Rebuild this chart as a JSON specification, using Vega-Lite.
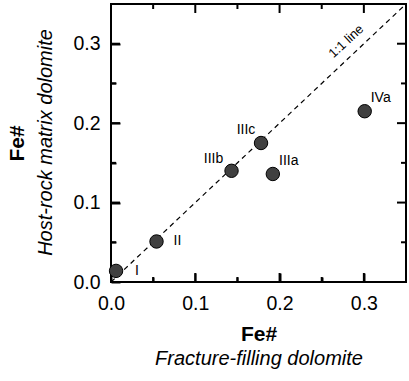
{
  "$schema": "https://vega.github.io/schema/vega-lite/v6.json",
  "autosize": "none",
  "padding": {"left": 111, "top": 4, "right": 3, "bottom": 99},
  "width": 295,
  "height": 278,
  "datasets": {
    "pts": [
      {"sample": "I", "x": 0.006, "y": 0.014},
      {"sample": "II", "x": 0.054, "y": 0.051},
      {"sample": "IIIb", "x": 0.143, "y": 0.140},
      {"sample": "IIIc", "x": 0.178, "y": 0.175},
      {"sample": "IIIa", "x": 0.192, "y": 0.136},
      {"sample": "IVa", "x": 0.301, "y": 0.215}
    ],
    "oneline": [{"x": 0, "y": 0}, {"x": 0.35, "y": 0.35}],
    "ann": [{"x": 0.279, "y": 0.303, "text": "1:1 line"}],
    "major": [{"v": 0.1}, {"v": 0.2}, {"v": 0.3}],
    "minor": [{"v": 0.05}, {"v": 0.15}, {"v": 0.25}]
  },
  "resolve": {"axis": {"x": "independent", "y": "independent"}},
  "layer": [
    {
      "data": {"name": "oneline"},
      "mark": {"type": "line", "stroke": "black", "strokeWidth": 1.2, "strokeDash": [5, 4]},
      "encoding": {
        "x": {"field": "x", "type": "quantitative", "scale": {"domain": [0, 0.35], "nice": false, "zero": false},
          "axis": {"orient": "bottom", "values": [0, 0.1, 0.2, 0.3], "format": ".1f", "offset": -9, "tickSize": 9, "labelPadding": 12,
            "title": "Fe#", "titleFontSize": 21, "titleFontWeight": "bold", "titleX": 147.5, "titleY": 61, "titleAlign": "center", "titleBaseline": "middle"}},
        "y": {"field": "y", "type": "quantitative", "scale": {"domain": [0, 0.35], "nice": false, "zero": false},
          "axis": {"orient": "left", "values": [0, 0.1, 0.2, 0.3], "format": ".1f", "offset": -9, "tickSize": 9, "labelPadding": 11,
            "title": "Fe#", "titleFontSize": 21, "titleFontWeight": "bold", "titleX": -103, "titleY": 139, "titleAlign": "center", "titleBaseline": "middle", "titleAngle": -90}}
      }
    },
    {
      "data": {"name": "major"},
      "mark": {"type": "rule", "stroke": "black", "strokeWidth": 2},
      "encoding": {
        "x": {"field": "v", "type": "quantitative", "axis": null},
        "y": {"datum": 0, "type": "quantitative", "axis": null},
        "y2": {"datum": 0.0113}
      }
    },
    {
      "data": {"name": "minor"},
      "mark": {"type": "rule", "stroke": "black", "strokeWidth": 2},
      "encoding": {
        "x": {"field": "v", "type": "quantitative", "axis": null},
        "y": {"datum": 0, "type": "quantitative", "axis": null},
        "y2": {"datum": 0.0063}
      }
    },
    {
      "data": {"name": "major"},
      "mark": {"type": "rule", "stroke": "black", "strokeWidth": 2},
      "encoding": {
        "x": {"field": "v", "type": "quantitative", "axis": null},
        "y": {"datum": 0.35, "type": "quantitative", "axis": null},
        "y2": {"datum": 0.3387}
      }
    },
    {
      "data": {"name": "minor"},
      "mark": {"type": "rule", "stroke": "black", "strokeWidth": 2},
      "encoding": {
        "x": {"field": "v", "type": "quantitative", "axis": null},
        "y": {"datum": 0.35, "type": "quantitative", "axis": null},
        "y2": {"datum": 0.3437}
      }
    },
    {
      "data": {"name": "major"},
      "mark": {"type": "rule", "stroke": "black", "strokeWidth": 2},
      "encoding": {
        "y": {"field": "v", "type": "quantitative", "axis": null},
        "x": {"datum": 0, "type": "quantitative", "axis": null},
        "x2": {"datum": 0.0107}
      }
    },
    {
      "data": {"name": "minor"},
      "mark": {"type": "rule", "stroke": "black", "strokeWidth": 2},
      "encoding": {
        "y": {"field": "v", "type": "quantitative", "axis": null},
        "x": {"datum": 0, "type": "quantitative", "axis": null},
        "x2": {"datum": 0.0059}
      }
    },
    {
      "data": {"name": "major"},
      "mark": {"type": "rule", "stroke": "black", "strokeWidth": 2},
      "encoding": {
        "y": {"field": "v", "type": "quantitative", "axis": null},
        "x": {"datum": 0.35, "type": "quantitative", "axis": null},
        "x2": {"datum": 0.3393}
      }
    },
    {
      "data": {"name": "minor"},
      "mark": {"type": "rule", "stroke": "black", "strokeWidth": 2},
      "encoding": {
        "y": {"field": "v", "type": "quantitative", "axis": null},
        "x": {"datum": 0.35, "type": "quantitative", "axis": null},
        "x2": {"datum": 0.3441}
      }
    },
    {
      "data": {"name": "pts"},
      "mark": {"type": "circle", "size": 180, "fill": "#404040", "stroke": "black", "strokeWidth": 1, "opacity": 1},
      "encoding": {
        "x": {"field": "x", "type": "quantitative",
          "axis": {"orient": "bottom", "values": [0.05, 0.15, 0.25], "offset": -5, "tickSize": 5, "labels": false,
            "title": "Fracture-filling dolomite", "titleFontSize": 20, "titleFontWeight": "normal", "titleFontStyle": "italic", "titleX": 147.5, "titleY": 81, "titleAlign": "center", "titleBaseline": "middle"}},
        "y": {"field": "y", "type": "quantitative",
          "axis": {"orient": "left", "values": [0.05, 0.15, 0.25], "offset": -5, "tickSize": 5, "labels": false,
            "title": "Host-rock matrix dolomite", "titleFontSize": 20, "titleFontWeight": "normal", "titleFontStyle": "italic", "titleX": -71, "titleY": 138, "titleAlign": "center", "titleBaseline": "middle", "titleAngle": -90}}
      }
    },
    {
      "data": {"name": "ann"},
      "mark": {"type": "text", "angle": -43, "fontSize": 13, "align": "center", "baseline": "middle", "color": "black"},
      "encoding": {
        "x": {"field": "x", "type": "quantitative", "axis": null},
        "y": {"field": "y", "type": "quantitative", "axis": null},
        "text": {"field": "text"}
      }
    },
    {
      "data": {"name": "pts"},
      "transform": [{"filter": "datum.sample === 'I' || datum.sample === 'II'"}],
      "mark": {"type": "text", "fontSize": 14, "align": "center", "baseline": "middle", "dx": 21, "dy": 0, "color": "black"},
      "encoding": {
        "x": {"field": "x", "type": "quantitative", "axis": null},
        "y": {"field": "y", "type": "quantitative", "axis": null},
        "text": {"field": "sample"}
      }
    },
    {
      "data": {"name": "pts"},
      "transform": [{"filter": "datum.sample === 'IIIb'"}],
      "mark": {"type": "text", "fontSize": 14, "align": "center", "baseline": "middle", "dx": -18, "dy": -12, "color": "black"},
      "encoding": {
        "x": {"field": "x", "type": "quantitative", "axis": null},
        "y": {"field": "y", "type": "quantitative", "axis": null},
        "text": {"field": "sample"}
      }
    },
    {
      "data": {"name": "pts"},
      "transform": [{"filter": "datum.sample === 'IIIc'"}],
      "mark": {"type": "text", "fontSize": 14, "align": "center", "baseline": "middle", "dx": -15, "dy": -13, "color": "black"},
      "encoding": {
        "x": {"field": "x", "type": "quantitative", "axis": null},
        "y": {"field": "y", "type": "quantitative", "axis": null},
        "text": {"field": "sample"}
      }
    },
    {
      "data": {"name": "pts"},
      "transform": [{"filter": "datum.sample === 'IIIa' || datum.sample === 'IVa'"}],
      "mark": {"type": "text", "fontSize": 14, "align": "center", "baseline": "middle", "dx": 16, "dy": -13, "color": "black"},
      "encoding": {
        "x": {"field": "x", "type": "quantitative", "axis": null},
        "y": {"field": "y", "type": "quantitative", "axis": null},
        "text": {"field": "sample"}
      }
    }
  ],
  "config": {
    "font": "Liberation Sans",
    "view": {"stroke": "black", "strokeWidth": 2},
    "axis": {
      "zindex": 1,
      "domain": false,
      "grid": false,
      "ticks": true,
      "tickColor": "black",
      "tickWidth": 2,
      "labelFlush": false,
      "labelOverlap": false,
      "labelFont": "Liberation Sans",
      "labelFontSize": 19.5,
      "labelColor": "black",
      "titleFont": "Liberation Sans",
      "titleColor": "black"
    },
    "text": {"font": "Liberation Sans"}
  }
}
